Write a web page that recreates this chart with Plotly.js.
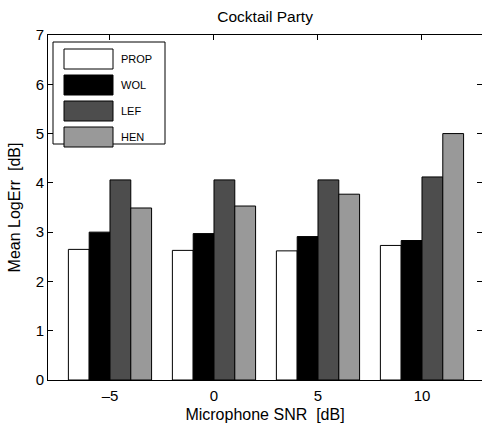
<!DOCTYPE html>
<html>
<head>
<meta charset="utf-8">
<script src="https://cdn.plot.ly/plotly-3.0.1.min.js"></script>
<style>html,body{margin:0;padding:0;background:#fff;}#chart{width:482px;height:425px;}</style>
</head>
<body>
<div id="chart"></div>
<script>
const categories = ["–5", "0", "5", "10"];
const seriesNames = ["PROP", "WOL", "LEF", "HEN"];
const PROP = [2.65, 2.63, 2.62, 2.73];
const WOL = [3.00, 2.97, 2.91, 2.83];
const LEF = [4.06, 4.06, 4.06, 4.12];
const HEN = [3.49, 3.53, 3.77, 5.00];
const seriesValues = [PROP, WOL, LEF, HEN];
const colors = ["#ffffff", "#000000", "#4d4d4d", "#999999"];
const yTicks = [0, 1, 2, 3, 4, 5, 6, 7];

const font = "Liberation Sans, Arial, Helvetica, sans-serif";

const traces = seriesNames.map((name, i) => ({
  type: "bar",
  name: name,
  x: categories,
  y: seriesValues[i],
  marker: {color: colors[i], line: {color: "#000000", width: 1}},
  showlegend: false,
  hoverinfo: "x+y+name"
}));

// custom MATLAB-style legend (paper coordinates)
const W = 482, H = 425, ml = 48, mr = 0, mt = 35, mb = 45;
const pw = W - ml - mr, ph = H - mt - mb;
const px = x => (x - ml) / pw;
const py = y => 1 - (y - mt) / ph;
const shapes = [{
  type: "rect", xref: "paper", yref: "paper",
  x0: px(53), x1: px(165), y0: py(144), y1: py(42),
  line: {color: "#000", width: 1}, fillcolor: "#fff"
}];
const annotations = [];
seriesNames.forEach((name, i) => {
  const cy = 59 + i * 26;
  shapes.push({
    type: "rect", xref: "paper", yref: "paper",
    x0: px(64), x1: px(113), y0: py(cy + 10), y1: py(cy - 10),
    line: {color: "#000", width: 1}, fillcolor: colors[i]
  });
  annotations.push({
    xref: "paper", yref: "paper", x: px(119), y: py(cy),
    xanchor: "left", yanchor: "middle", showarrow: false,
    text: name, font: {family: font, size: 11, color: "#000"}
  });
});

const layout = {
  width: W, height: H,
  margin: {l: ml, r: mr, t: mt, b: mb, pad: 0},
  paper_bgcolor: "#fff", plot_bgcolor: "#fff",
  font: {family: font, size: 15, color: "#000"},
  title: {text: "Cocktail Party", font: {family: font, size: 15.5, color: "#000"}, x: 0.55, xanchor: "center", y: 0.96, yanchor: "middle"},
  barmode: "group", bargap: 0.2, bargroupgap: 0,
  xaxis: {
    type: "category", range: [-0.596, 3.577],
    showline: true, linecolor: "#000", linewidth: 1, mirror: "allticks",
    ticks: "inside", ticklen: 5, tickcolor: "#000", tickwidth: 1,
    showgrid: false, zeroline: false,
    ticklabelstandoff: 2,
    tickfont: {family: font, size: 15},
    title: {text: "Microphone SNR  [dB]", font: {family: font, size: 16}, standoff: 5}
  },
  yaxis: {
    range: [0, 7], tickvals: yTicks,
    showline: true, linecolor: "#000", linewidth: 1, mirror: "allticks",
    ticks: "inside", ticklen: 5, tickcolor: "#000", tickwidth: 1,
    showgrid: false, zeroline: false,
    tickfont: {family: font, size: 15},
    title: {text: "Mean LogErr  [dB]", font: {family: font, size: 16}, standoff: 11}
  },
  shapes: shapes,
  annotations: annotations
};

Plotly.newPlot("chart", traces, layout, {displayModeBar: false, staticPlot: true});
</script>
</body>
</html>
